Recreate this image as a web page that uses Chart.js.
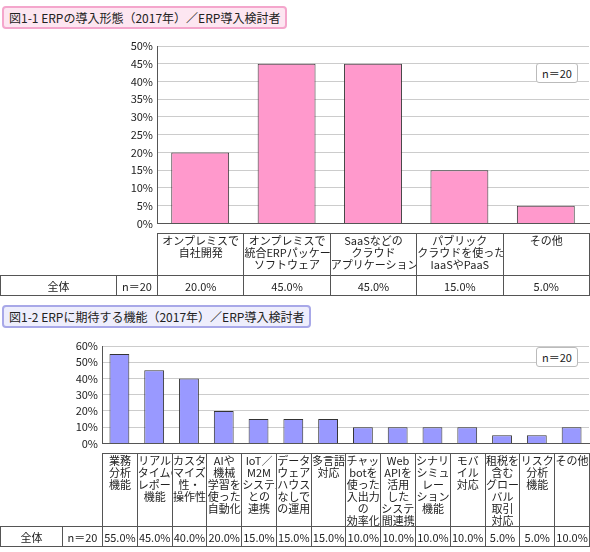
<!DOCTYPE html><html><head><meta charset="utf-8">
<script src="https://cdn.jsdelivr.net/npm/chart.js@4"></script>
<style>
body{margin:0;width:590px;height:552px;background:#fff;font-family:"Noto Sans CJK JP",sans-serif;font-size:11px;color:#222;position:relative;overflow:hidden}
.title{position:absolute;left:2px;height:19px;line-height:19px;padding:0 5px;border-radius:4px;font-size:12px}
.c{position:absolute}
table{position:absolute;border-collapse:collapse;table-layout:fixed;font-size:11px}
td{border:1px solid #555;text-align:center;padding:0;overflow:hidden}
td.lab{vertical-align:top;line-height:12px;white-space:nowrap;border-bottom:1px solid #555}
td.blank{border:none;border-bottom:1px solid #555}
.n{position:absolute;border:1px solid #bbb;border-radius:3px;background:#fff;padding:1px 5px;font-size:11px}
</style></head><body>
<div class="title" style="top:6px;border:2px solid #f4a6cc;background:#fde6f1">図1-1 ERPの導入形態（2017年）／ERP導入検討者</div>
<div class="c" style="left:0;top:30px;width:590px;height:204px"><canvas id="c1"></canvas></div>
<table id="t1" style="left:0;top:233px;width:589px"></table>
<div class="n" style="left:536px;top:63px">n＝20</div>
<div class="title" style="top:305px;border:2px solid #a8a8e8;background:#eeeefc">図1-2 ERPに期待する機能（2017年）／ERP導入検討者</div>
<div class="c" style="left:0;top:330px;width:590px;height:124px"><canvas id="c2"></canvas></div>
<table id="t2" style="left:0;top:453px;width:589px"></table>
<div class="n" style="left:536px;top:347px">n＝20</div>
<script>
const cats1=["オンプレミスで<br>自社開発","オンプレミスで<br>統合ERPパッケージ<br>ソフトウェア","SaaSなどの<br>クラウド<br>アプリケーション","パブリック<br>クラウドを使った<br>IaaSやPaaS","その他"];
const vals1=[20,45,45,15,5];
const cats2=["業務<br>分析<br>機能","リアル<br>タイムの<br>レポート<br>機能","カスタ<br>マイズ<br>性・<br>操作性","AIや<br>機械<br>学習を<br>使った<br>自動化","IoT／<br>M2M<br>システム<br>との<br>連携","データ<br>ウェア<br>ハウス<br>なしで<br>の運用","多言語<br>対応","チャット<br>botを<br>使った<br>入出力<br>の<br>効率化","Web<br>APIを<br>活用<br>した<br>システム<br>間連携","シナリオ<br>シミュ<br>レー<br>ション<br>機能","モバ<br>イル<br>対応","租税を<br>含む<br>グロー<br>バル<br>取引<br>対応","リスク<br>分析<br>機能","その他"];
const vals2=[55,45,40,20,15,15,15,10,10,10,10,5,5,10];
const yTicks1=[0,5,10,15,20,25,30,35,40,45,50];
const yTicks2=[0,10,20,30,40,50,60];
function mk(id,vals,color,max,step,leftW,bp){
 new Chart(document.getElementById(id),{type:'bar',
  data:{labels:vals.map((v,i)=>i),datasets:[{data:vals,backgroundColor:color,borderColor:'#333',borderWidth:1,barPercentage:bp,categoryPercentage:1}]},
  options:{responsive:true,maintainAspectRatio:false,animation:false,
   layout:{padding:{top:16,right:1,left:0,bottom:0}},
   plugins:{legend:{display:false},tooltip:{enabled:false}},
   scales:{x:{ticks:{display:false},grid:{display:false},border:{color:'#555'},afterFit(s){s.height=0}},
    y:{min:0,max:max,ticks:{stepSize:step,callback:v=>v+'%',color:'#222',font:{size:11,family:'"Noto Sans CJK JP"'},padding:4},
     grid:{color:'#ccc',drawTicks:false},border:{color:'#555'},afterFit(s){s.width=leftW}}}}});
}
mk('c1',vals1,'#ff99cc',50,5,157,0.67);
mk('c2',vals2,'#9999ff',60,10,102,0.57);
function tbl(id,cats,vals,w1,w2,lh,dec){
 const t=document.getElementById(id);
 const cw=(589-w1-w2)/cats.length;
 let h='<colgroup><col style="width:'+w1+'px"><col style="width:'+w2+'px">'+cats.map(()=>'<col style="width:'+cw+'px">').join('')+'</colgroup>';
 h+='<tr style="height:'+lh+'px"><td class="blank"></td><td class="blank"></td>'+cats.map(c=>'<td class="lab">'+c+'</td>').join('')+'</tr>';
 h+='<tr style="height:20px"><td>全体</td><td>n＝20</td>'+vals.map(v=>'<td>'+v.toFixed(1)+'%</td>').join('')+'</tr>';
 t.innerHTML=h;
}
tbl('t1',cats1,vals1,116,41,42);
tbl('t2',cats2,vals2,62,40,68);
</script></body></html>
